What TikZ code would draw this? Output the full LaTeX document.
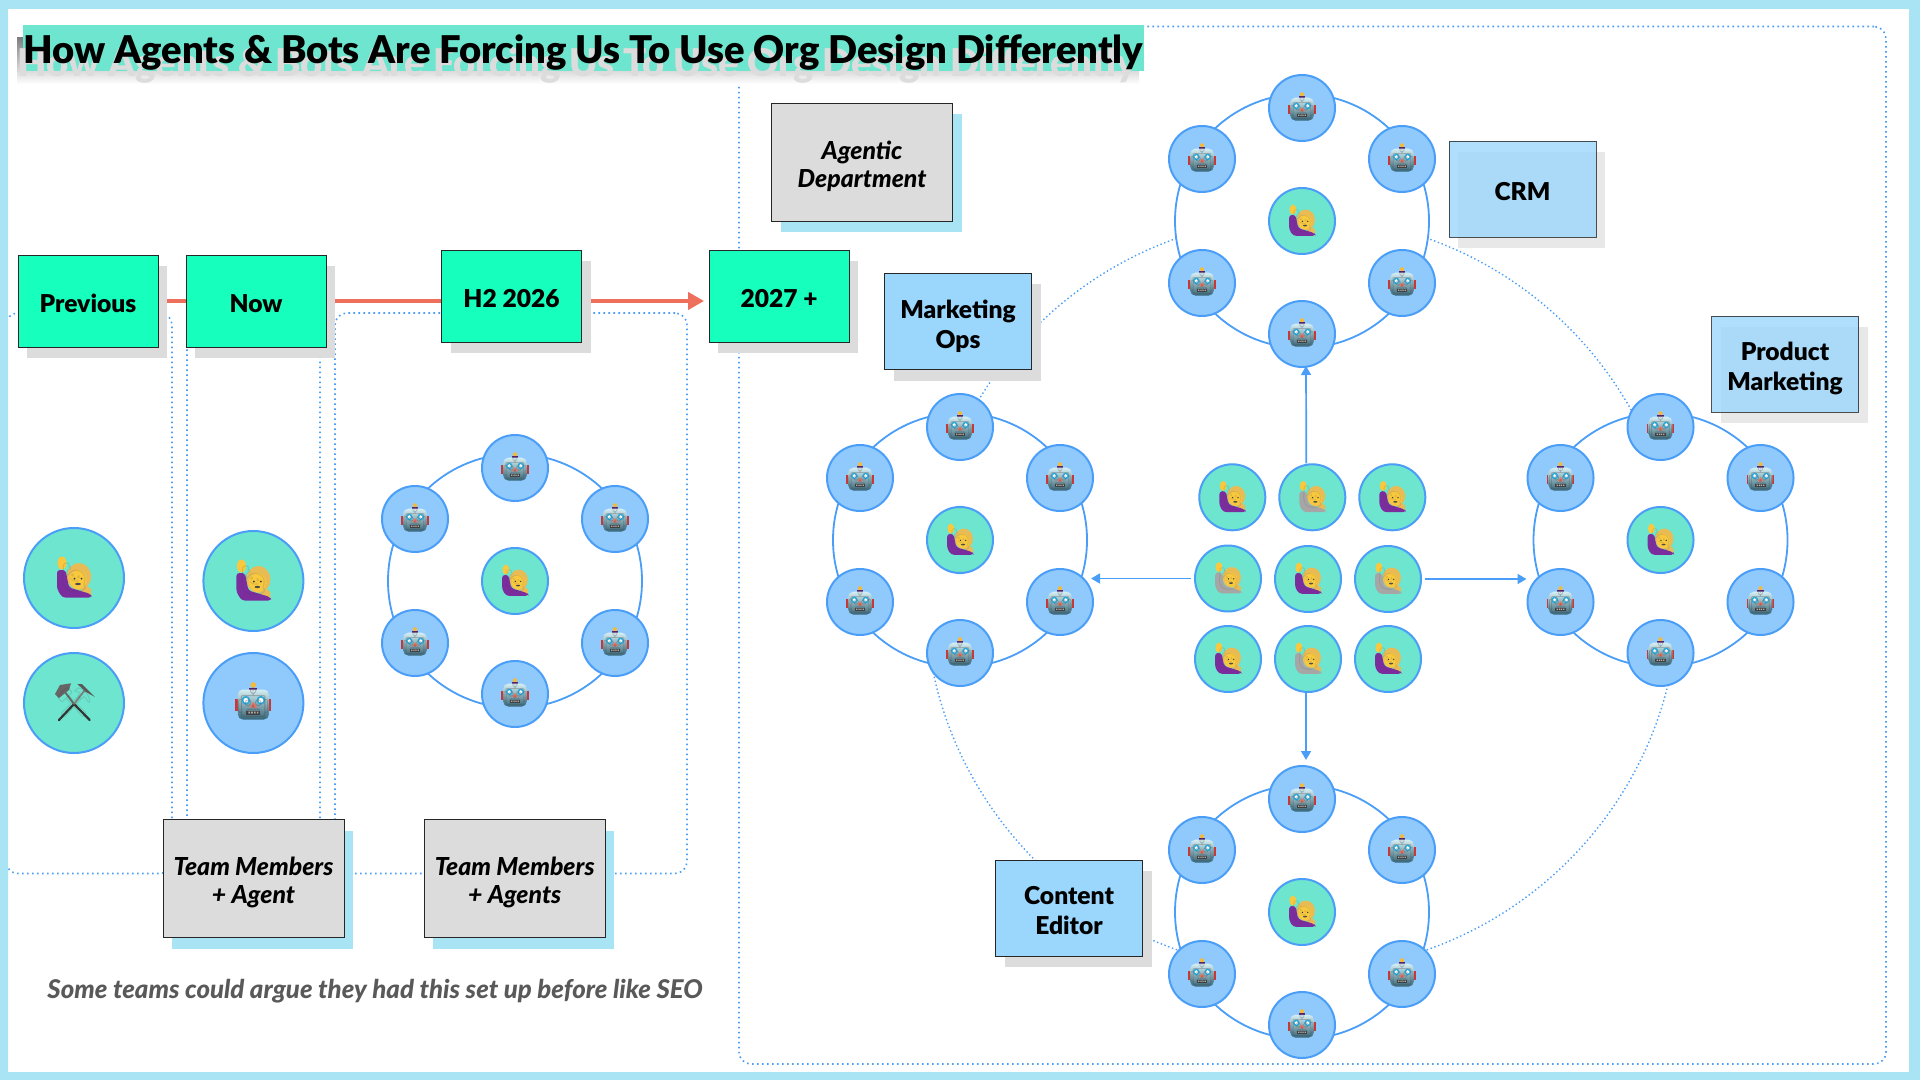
\documentclass[tikz,border=0pt]{standalone}
\usepackage{fontspec}
\setmainfont{Lato}[BoldFont={Lato Black},BoldItalicFont={Lato Black Italic}]
\newfontfamily\emojifont{Noto Emoji}
\usetikzlibrary{arrows.meta,calc,shadows}
\pgfdeclarelayer{back}
\pgfdeclarelayer{linelayer}
\pgfsetlayers{back,linelayer,main}
\definecolor{frameblue}{HTML}{A8E4F3}
\definecolor{hl}{HTML}{6EE5CE}
\definecolor{shade}{HTML}{DCDCDC}
\definecolor{spring}{HTML}{17FFBD}
\definecolor{sky}{HTML}{9BD7FD}
\definecolor{botblue}{HTML}{90CAFD}
\definecolor{stroke}{HTML}{4A9EF7}
\definecolor{redline}{HTML}{EE6F5B}
\definecolor{capt}{HTML}{595959}
\definecolor{purp}{HTML}{7B2D9E}
\definecolor{greybody}{HTML}{A6A6A6}
\definecolor{skin}{HTML}{F8C93E}
\definecolor{hair}{HTML}{E9BB55}
\definecolor{gold}{HTML}{F5B93A}
\definecolor{headtop}{HTML}{D5EEF2}
\definecolor{headbot}{HTML}{356477}
\definecolor{eyering}{HTML}{2FA8D8}
\newcommand\lift[1]{\raisebox{-.47em}[0pt][0pt]{\begin{tabular}{@{}c@{}}#1\end{tabular}}}
\newcommand\botart[2]{%
 \begin{scope}[shift={(#1.center)},scale=#2]
  \fill[red!55!gray] (-18,-4) rectangle (18,8);
  \fill[gold] (0,-18) circle (2.8);
  \fill[purp!70!black] (-4,-15.5) rectangle (4,-12.5);
  \shade[top color=headtop,bottom color=headbot,rounded corners=2.5] (-15.5,-13.5) rectangle (15.5,16.5);
  \fill[eyering] (-7.5,-2.7) circle (4.4) (7.5,-2.7) circle (4.4);
  \fill[white] (-7.5,-2.7) circle (2.4) (7.5,-2.7) circle (2.4);
  \fill[redline] (0,-1) -- (3.6,4.5) -- (-3.6,4.5) -- cycle;
  \fill[black!75] (-7,7.5) rectangle (7,11.5);
  \fill[white!85!black] (-5,8.7) rectangle (-3.4,10.3) (-2.2,8.7) rectangle (-.6,10.3) (.6,8.7) rectangle (2.2,10.3) (3.4,8.7) rectangle (5,10.3);
 \end{scope}}
\newcommand\personart[3]{%
 \begin{scope}[shift={(#1.center)},scale=#2]
  \fill[hair] (5,-1.5) ellipse (12 and 13.5);
  \fill[hair] (10,6) -- (17,11) -- (17,19) -- (7,14) -- cycle;
  \fill[#3,rounded corners=1.5] (-17,-8) -- (-8.5,-8) -- (-5,9.5) -- (5,12.5) -- (16.7,16) -- (18,19.5) -- (-11.7,19.5) -- (-17,11) -- cycle;
  \fill[skin] (-12,-15) ellipse (4.5 and 6.5);
  \fill[skin] (4,1.5) ellipse (8.5 and 9.5);
  \fill[black!80] (.5,.5) circle (1) (7.5,.5) circle (1);
  \fill[black!70] (4,6) ellipse (2.8 and 1.1);
 \end{scope}}
\newcommand\hammerart[1]{%
 \begin{scope}[shift={(#1.center)}]
  \draw[line width=1.1pt,line cap=round,black!80] (-15,17) -- (0,1);
  \draw[line width=1.1pt,line cap=round,black!80] (15.7,17) -- (0,1);
  \draw[line width=.9pt,gray] (0,1) -- (11.7,-14);
  \draw[line width=.9pt,gray!80!black] (0,1) -- (-10,-12.3);
  \fill[gray!70!black] (3.3,-19) -- (8,-19) -- (21,-6) -- (12,-11) -- cycle;
  \fill[gray!80!black] (-19,-9) -- (-14,-18) -- (-3,-19.7) -- (-5,-13) -- (-15,-5) -- cycle;
 \end{scope}}
\tikzset{
 x=0.5pt,y=-0.5pt,
 dots/.style={draw=stroke,line width=.8pt,dash pattern=on .8pt off 1.7pt,inner sep=0,rounded corners=6pt},
 arcdots/.style={draw=stroke,line width=.7pt,dash pattern=on .7pt off 1.3pt,circle,inner sep=0},
 labelbox/.style={rectangle,draw=#1,line width=.45pt,inner sep=0,font=\fontsize{12.3}{15}\selectfont\bfseries},
 timebox/.style={labelbox=black!85,fill=spring,minimum width=70pt,minimum height=46pt,general shadow={fill=shade,shadow xshift=4.5pt,shadow yshift=-5.5pt}},
 rolebox/.style={labelbox=black!85,fill=sky,minimum width=73.5pt,minimum height=48pt,general shadow={fill=shade,shadow xshift=4.5pt,shadow yshift=-5.5pt}},
 fadebox/.style={labelbox=black!85,fill=sky,fill opacity=.8,draw opacity=.8,text opacity=1,minimum width=73.5pt,minimum height=48pt,general shadow={fill=shade!80!white,shadow xshift=4.5pt,shadow yshift=-5.5pt}},
 notebox/.style={labelbox=black!85,fill=shade,font=\fontsize{12.4}{14}\selectfont\bfseries\itshape,minimum width=90.5pt,minimum height=59pt,general shadow={fill=frameblue,shadow xshift=4.5pt,shadow yshift=-5.5pt}},
 blob/.style={circle,draw=stroke,line width=1pt,inner sep=0,minimum size=#1},
 glyph/.style={inner sep=0,text=black!75,text opacity=.3,font=\emojifont\fontsize{#1}{#1}\selectfont},
 faint/.style={text opacity=.15},
 ringline/.style={circle,draw=stroke,line width=.9pt,fill=white,minimum size=127pt,inner sep=0},
 flow/.style={draw=stroke,line width=.85pt,-{Triangle[length=4.5pt,width=5pt]}},
}
% #1 name, #2 position
\newcommand\botsm[2]{\node[blob=33pt,fill=botblue] (#1) at (#2) {};\botart{#1}{.76}\node[glyph=11] at (#1) {🤖};}
\newcommand\botlg[2]{\node[blob=50pt,fill=botblue] (#1) at (#2) {};\botart{#1}{1}\node[glyph=14.5] at (#1) {🤖};}
\newcommand\persm[3]{\node[blob=33pt,fill=hl] (#1) at (#2) {};\personart{#1}{.76}{#3}\node[glyph=11,faint] at (#1) {🙋};}
\newcommand\perlg[2]{\node[blob=50pt,fill=hl] (#1) at (#2) {};\personart{#1}{1}{purp}\node[glyph=14.5,faint] at (#1) {🙋};}
\newcommand\orgring[3]{%
 \coordinate (#1c) at (#2,#3);
 \node[ringline] (#1r) at (#1c) {};
 \persm{#1p}{#1c}{purp}
 \botsm{#1a}{$(#1c)+(0,-113)$}
 \botsm{#1b}{$(#1c)+(100,-62)$}
 \botsm{#1d}{$(#1c)+(100,62)$}
 \botsm{#1e}{$(#1c)+(0,113)$}
 \botsm{#1f}{$(#1c)+(-100,62)$}
 \botsm{#1g}{$(#1c)+(-100,-62)$}
}
\begin{document}
\begin{tikzpicture}
\useasboundingbox (0,0) rectangle (1920,1080);
\begin{pgfonlayer}{back}
\fill[white] (0,0) rectangle (1920,1080);
\node[dots,minimum width=83pt,minimum height=280.25pt] (prevframe) at (89,593.25) {};
\fill[frameblue,even odd rule] (0,0) rectangle (1920,1080) (8,9) rectangle (1909,1072);
\node[dots,minimum width=573.5pt,minimum height=518.75pt] (bigframe) at (1312.5,545.25) {};
\node[dots,minimum width=176pt,minimum height=280.25pt] (h2frame) at (511,593.25) {};
\node[dots,minimum width=66.5pt,minimum height=285pt] (nowframe) at (253.5,585) {};
\node[arcdots,minimum size=377pt] (loop) at (1302,594) {};
\end{pgfonlayer}
% title
\fill[shade] (17,38) rectangle (1139,84);
\fill[hl] (23,25) rectangle (1144,71);
\node[anchor=base west,inner sep=0,text=shade,font=\fontsize{19.1}{21}\selectfont\bfseries] (titleghost) at (17,77) {How Agents \& Bots Are Forcing Us To Use Org Design Differently};
\node[anchor=base west,inner sep=0,font=\fontsize{19.1}{21}\selectfont\bfseries] (title) at (23,64) {How Agents \& Bots Are Forcing Us To Use Org Design Differently};
% timeline
\node[timebox] (prev) at (88,301) {\lift{Previous}};
\node[timebox] (now) at (256,301) {\lift{Now}};
\node[timebox] (h2) at (511.5,296) {\lift{H2 2026}};
\node[timebox] (y27) at (779,296) {\lift{2027 +}};
\begin{pgfonlayer}{linelayer}
\draw[draw=redline,line width=2pt,shorten >=2.25pt,-{Triangle[length=8pt,width=8.5pt]}] (prev.east) -- (prev.east -| y27.west);
\end{pgfonlayer}
% left column
\perlg{handprev}{74,578}
\node[blob=50pt,fill=hl] (tools) at (74,703) {};\hammerart{tools}\node[glyph=14.5,faint] at (tools) {⚒};
\perlg{handnow}{253.4,581}
\botlg{botnow}{253.4,703}
% rings
\orgring{h}{515}{581}
\orgring{t}{1302}{221}
\orgring{l}{960}{540}
\orgring{r}{1660.5}{540}
\orgring{u}{1302}{912}
% labels
\node[notebox] (agentic) at (862,162) {\lift{Agentic\\Department}};
\node[notebox] (teamone) at (253.5,878.5) {\lift{Team Members\\+ Agent}};
\node[notebox] (teamtwo) at (514.7,878.5) {\lift{Team Members\\+ Agents}};
\node[rolebox] (mops) at (958,321.5) {\lift{Marketing\\Ops}};
\node[rolebox] (content) at (1069,908) {\lift{Content\\Editor}};
\node[fadebox] (crm) at (1522.5,189) {\lift{CRM}};
\node[fadebox] (pmm) at (1785,364) {\lift{Product\\Marketing}};
\node[anchor=base west,inner sep=0,text=capt,font=\fontsize{12.9}{14}\selectfont\itshape\bfseries] (caption) at (47,998) {Some teams could argue they had this set up before like SEO};
% central grid
\persm{ga}{1232.3,497.3}{purp}
\persm{gb}{1312.3,497.3}{greybody}
\persm{gc}{1392.3,497.3}{purp}
\persm{gd}{1228,578.5}{greybody}
\persm{ge}{1308,579}{purp}
\persm{gf}{1388,579}{greybody}
\persm{gg}{1228,659}{purp}
\persm{gh}{1308,659}{greybody}
\persm{gi}{1388,659}{purp}
% connectors
\draw[flow,shorten >=-1pt] ($(gb.north)+(-6,0)$) -- ($(te.south)+(4,0)$);
\draw[flow,shorten <=1.5pt,shorten >=-1.5pt] (gd.west) -- (gd.west -| ld.east);
\draw[flow,shorten <=1.5pt] (gf.east) -- (gf.east -| rf.west);
\draw[flow,shorten >=2.5pt] ($(gh.south)+(-2,0)$) -- ($(ua.north)+(4,0)$);
\end{tikzpicture}
\end{document}
